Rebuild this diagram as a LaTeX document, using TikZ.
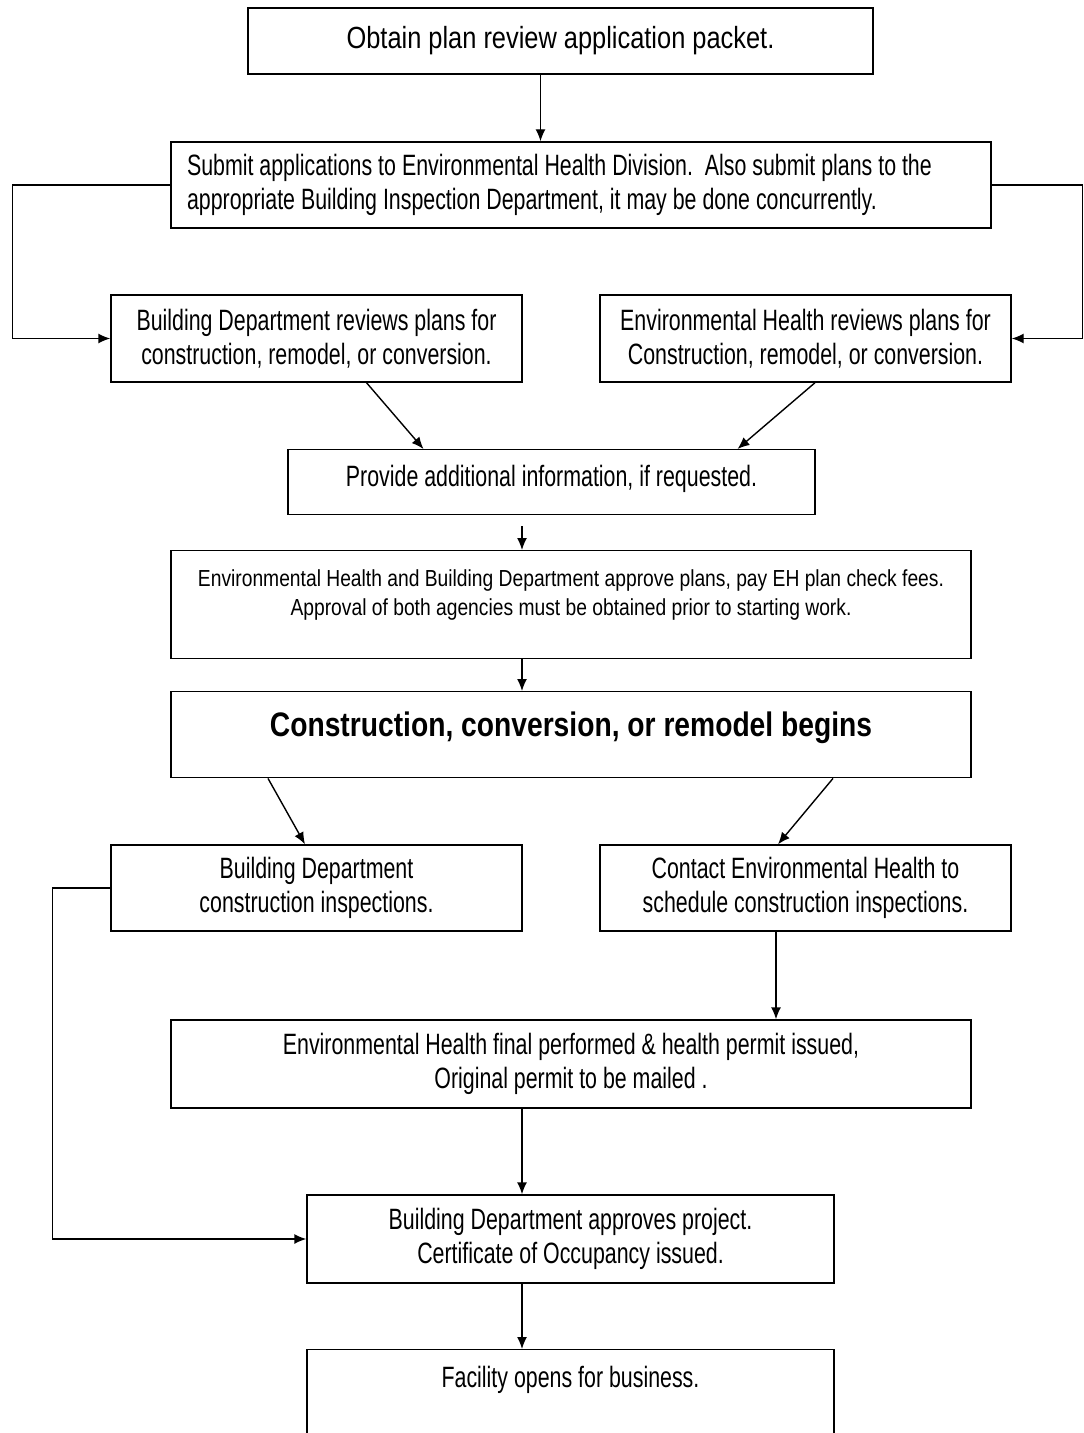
\documentclass[tikz,border=0pt]{standalone}
\usepackage{fontspec}
\setmainfont{Liberation Sans}[FakeStretch=0.727]
\newfontfamily\widefont{Liberation Sans}[FakeStretch=0.83]
\usetikzlibrary{arrows.meta}

\tikzset{
  box/.style={draw, line width=0.7pt, rectangle, align=center,
    font=\fontsize{14.7}{16.75}\selectfont, inner sep=0pt},
  halfbox/.style={box, minimum width=205.5pt},
  widebox/.style={box, minimum width=400pt},
  arr/.style={-{Latex[length=6pt,width=5pt]}, line width=0.7pt},
}

\begin{document}
\begin{tikzpicture}[x=0.5pt, y=-0.5pt]
\path[use as bounding box, clip] (0,0) rectangle (1083,1433);

% boxes, top to bottom
\node[box, minimum width=312.5pt, minimum height=33pt, font=\widefont\fontsize{15.3}{17}\selectfont]
  (packet) at (560.5,41) {Obtain plan review application packet.};
\node[box, align=flush left, text width=394pt, inner xsep=8pt, minimum height=43pt]
  (submit) at (581,185) {Submit applications to Environmental Health Division.\ \ Also submit plans to the\\
  appropriate Building Inspection Department, it may be done concurrently.};
\node[halfbox, minimum height=43.5pt] (bldgrev) at (316.5,338.5)
  {Building Department reviews plans for\\construction, remodel, or conversion.};
\node[halfbox, minimum height=43.5pt] (ehrev) at (805.5,338.5)
  {Environmental Health reviews plans for\\Construction, remodel, or conversion.};
\node[box, anchor=north, minimum width=263.5pt, text height=18.5pt, text depth=14pt]
  (provide) at (551.5,449) {Provide additional information, if requested.};
\node[widebox, anchor=north, text height=32.25pt, text depth=21.75pt,
  font=\widefont\fontsize{11.6}{14.5}\selectfont] (approve) at (571,550)
  {Environmental Health and Building Department approve plans, pay EH plan check fees.\\
  Approval of both agencies must be obtained prior to starting work.};
\node[widebox, anchor=north, text height=22.5pt, text depth=20.5pt,
  font=\widefont\fontsize{17}{20}\selectfont\bfseries] (begins) at (571,691)
  {Construction, conversion, or remodel begins};
\node[halfbox, minimum height=43pt] (bldginsp) at (316.5,888)
  {Building Department\\construction inspections.};
\node[halfbox, minimum height=43pt] (contact) at (805.5,888)
  {Contact Environmental Health to\\schedule construction inspections.};
\node[widebox, minimum height=44pt] (ehfinal) at (571,1064)
  {Environmental Health final performed \& health permit issued,\\Original permit to be mailed .};
\node[box, minimum width=263.5pt, minimum height=44pt] (bldgok) at (570.5,1239)
  {Building Department approves project.\\Certificate of Occupancy issued.};
\node[box, anchor=north, minimum width=263.5pt, text height=19pt, text depth=31pt]
  (facility) at (570.5,1349) {Facility opens for business.};

% connectors
\draw[arr] ([xshift=-10pt]packet.south) -- ([xshift=-10pt]packet.south |- submit.north);
\draw[arr] (submit.west) -- ++(-158,0) |- (bldgrev.west);
\draw[arr] (submit.east) -- ++(91,0) |- (ehrev.east);
\draw[arr] ([xshift=25pt]bldgrev.south) -- ([xshift=-64pt]provide.north);
\draw[arr] ([xshift=4.75pt]ehrev.south) -- ([xshift=93pt]provide.north);
\draw[arr] ([xshift=-14.75pt,yshift=-5.5pt]provide.south) -- ([xshift=-14.75pt]provide.south |- approve.north);
\draw[arr] ([xshift=-24.5pt]approve.south) -- ([xshift=-24.5pt]approve.south |- begins.north);
\draw[arr] ([xshift=-151.5pt]begins.south) -- ([xshift=-5.75pt]bldginsp.north);
\draw[arr] ([xshift=131pt]begins.south) -- ([xshift=-13.75pt]contact.north);
\draw[arr] ([xshift=-14.75pt]contact.south) -- ([xshift=-14.75pt]contact.south |- ehfinal.north);
\draw[arr] (bldginsp.west) -- ++(-58,0) |- (bldgok.west);
\draw[arr] ([xshift=-24.5pt]ehfinal.south) -- ([xshift=-24.5pt]ehfinal.south |- bldgok.north);
\draw[arr] ([xshift=-24.25pt]bldgok.south) -- ([xshift=-24.25pt]bldgok.south |- facility.north);
\end{tikzpicture}
\end{document}
